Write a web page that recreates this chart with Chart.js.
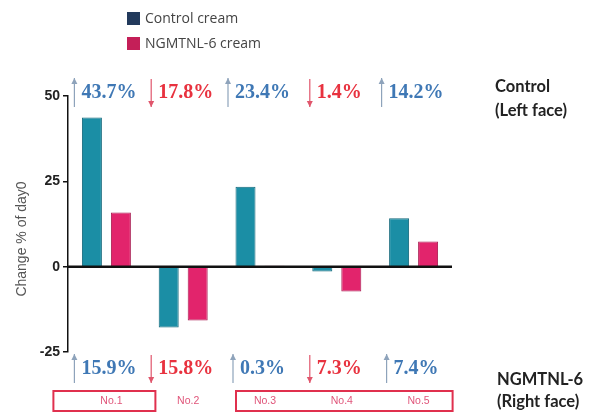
<!DOCTYPE html>
<html>
<head>
<meta charset="utf-8">
<script src="https://cdn.jsdelivr.net/npm/chart.js"></script>
<style>
  html, body { margin: 0; padding: 0; background: #ffffff; }
  #wrap { position: relative; width: 606px; height: 414px; }
</style>
</head>
<body>
<div id="wrap"><canvas id="c"></canvas></div>
<script>
// ---- data ----
const categories = ['No.1', 'No.2', 'No.3', 'No.4', 'No.5'];
const seriesNames = ['Control cream', 'NGMTNL-6 cream'];
const controlValues = [43.7, -17.8, 23.4, -1.4, 14.2];
const ngmtnlValues = [15.9, -15.8, 0.3, -7.3, 7.4];
const yTicks = [-25, 0, 25, 50];
const yTitle = 'Change % of day0';
const rowLabelsTop = ['Control', '(Left face)'];
const rowLabelsBottom = ['NGMTNL-6', '(Right face)'];
const boxedGroups = [[0, 0], [2, 4]];

// ---- styles ----
const barColors = ['#1b8ea5', '#e2246c'];
const barBorders = ['#12677a', '#a81a50'];
const legendColors = ['#223a5c', '#c41f58'];
const upColor = '#3f78b5';
const downColor = '#e8323f';
const upArrow = '#8ea3bb';
const downArrow = '#e0566c';
const boxPad = [[-53, 49], [-24, 39]];

function drawArrow(ctx, x, y1, y2, color) {
  ctx.save();
  ctx.strokeStyle = color;
  ctx.fillStyle = color;
  ctx.lineWidth = 1.2;
  ctx.beginPath();
  ctx.moveTo(x, y1);
  ctx.lineTo(x, y2);
  ctx.stroke();
  const dir = y2 < y1 ? 1 : -1;
  ctx.beginPath();
  ctx.moveTo(x, y2);
  ctx.lineTo(x - 3, y2 + dir * 6);
  ctx.lineTo(x + 3, y2 + dir * 6);
  ctx.closePath();
  ctx.fill();
  ctx.restore();
}

function drawPctRow(ctx, xs, values, yCenter) {
  ctx.save();
  ctx.font = 'bold 20px "Liberation Serif", "DejaVu Serif", serif';
  ctx.textBaseline = 'middle';
  ctx.textAlign = 'left';
  values.forEach((v, i) => {
    const up = v >= 0;
    const txt = Math.abs(v).toFixed(1) + '%';
    const w = ctx.measureText(txt).width;
    const gap = 7;
    const total = gap + w;
    const ax = xs.getPixelForValue(i) - total / 2 - 1;
    if (up) drawArrow(ctx, ax, yCenter + 15, yCenter - 14, upArrow);
    else drawArrow(ctx, ax, yCenter - 13, yCenter + 15, downArrow);
    ctx.fillStyle = up ? upColor : downColor;
    ctx.fillText(txt, ax + gap, yCenter + 1);
  });
  ctx.restore();
}

const overlay = {
  id: 'overlay',
  afterDatasetsDraw(chart) {
    const ctx = chart.ctx;
    const xs = chart.scales.x;
    const ys = chart.scales.y;
    const area = chart.chartArea;

    // zero line
    ctx.save();
    ctx.strokeStyle = '#111';
    ctx.lineWidth = 2.5;
    ctx.beginPath();
    const y0 = ys.getPixelForValue(0);
    ctx.moveTo(area.left, y0);
    ctx.lineTo(area.right, y0);
    ctx.stroke();
    ctx.restore();

    // percentage rows
    drawPctRow(ctx, xs, controlValues, 92);
    drawPctRow(ctx, xs, ngmtnlValues, 368);

    // category boxes and labels
    ctx.save();
    ctx.strokeStyle = '#e0304e';
    ctx.lineWidth = 2;
    boxedGroups.forEach(([a, b], k) => {
      const l = xs.getPixelForValue(a) + boxPad[k][0];
      const r = xs.getPixelForValue(b) + boxPad[k][1];
      ctx.strokeRect(l, 391, r - l, 20);
    });
    ctx.fillStyle = '#e0557a';
    ctx.font = '10.5px "Liberation Sans", Arial, sans-serif';
    ctx.textAlign = 'center';
    ctx.textBaseline = 'middle';
    categories.forEach((c, i) => {
      ctx.fillText(c, xs.getPixelForValue(i) + 5, 401.5);
    });
    ctx.restore();

    // y axis title
    ctx.save();
    ctx.translate(22, 239);
    ctx.rotate(-Math.PI / 2);
    ctx.fillStyle = '#555';
    ctx.font = '14px "Liberation Sans", Arial, sans-serif';
    ctx.textAlign = 'center';
    ctx.textBaseline = 'middle';
    ctx.fillText(yTitle, 0, 0);
    ctx.restore();

    // right labels
    ctx.save();
    ctx.fillStyle = '#222';
    ctx.font = 'bold 16.5px Lato, "Open Sans", sans-serif';
    ctx.textAlign = 'left';
    ctx.textBaseline = 'middle';
    ctx.fillText(rowLabelsTop[0], 495, 87);
    ctx.fillText(rowLabelsTop[1], 495, 111);
    ctx.fillText(rowLabelsBottom[0], 497, 380);
    ctx.fillText(rowLabelsBottom[1], 497, 402);
    ctx.restore();

    // legend
    ctx.save();
    ctx.font = '14px "Open Sans", sans-serif';
    ctx.textAlign = 'left';
    ctx.textBaseline = 'middle';
    seriesNames.forEach((n, i) => {
      const yy = 12 + i * 25;
      ctx.fillStyle = legendColors[i];
      ctx.fillRect(127, yy, 13, 13);
      ctx.fillStyle = '#444';
      ctx.fillText(n, 145, yy + 7);
    });
    ctx.restore();
  }
};

new Chart(document.getElementById('c'), {
  type: 'bar',
  data: {
    labels: categories,
    datasets: [
      { label: seriesNames[0], data: controlValues, backgroundColor: barColors[0], borderColor: barBorders[0], borderWidth: 1 },
      { label: seriesNames[1], data: ngmtnlValues, backgroundColor: barColors[1], borderColor: barBorders[1], borderWidth: 1 }
    ]
  },
  options: {
    responsive: true,
    maintainAspectRatio: false,
    animation: false,
    datasets: { bar: { categoryPercentage: 0.755, barPercentage: 0.69 } },
    layout: { padding: { left: 0, right: 154, top: 96, bottom: 62 } },
    plugins: { legend: { display: false }, tooltip: { enabled: false } },
    scales: {
      x: { display: false },
      y: {
        min: yTicks[0],
        max: yTicks[yTicks.length - 1],
        afterBuildTicks(scale) { scale.ticks = yTicks.map(v => ({ value: v })); },
        afterFit(scale) { scale.width = 68; },
        border: { display: true, color: '#111', width: 1.5 },
        grid: { drawOnChartArea: false, drawTicks: true, tickLength: 5, color: '#111', lineWidth: 1.5 },
        ticks: {
          padding: 3,
          color: '#222',
          font: { family: '"Liberation Sans", Arial, sans-serif', weight: 'bold', size: 14 }
        }
      }
    }
  },
  plugins: [overlay]
});
</script>
</body>
</html>
